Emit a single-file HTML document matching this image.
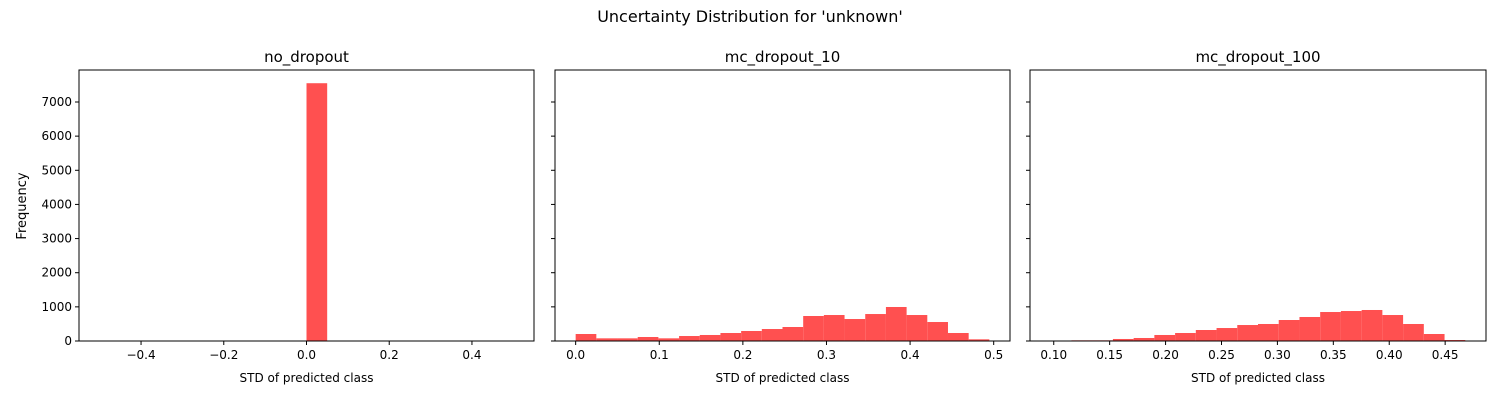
<!DOCTYPE html>
<html><head><meta charset="utf-8"><style>
body{margin:0;background:#fff;}
text{font-family:"DejaVu Sans","Liberation Sans",sans-serif;fill:#000;}
</style></head><body>
<svg id="chart" width="1500" height="400" xmlns="http://www.w3.org/2000/svg">
<text x="750" y="22" font-size="16" text-anchor="middle">Uncertainty Distribution for 'unknown'</text>
<text transform="translate(26,206) rotate(-90)" font-size="13" text-anchor="middle">Frequency</text>
</svg>
<script>
const panelTitles = ["no_dropout","mc_dropout_10","mc_dropout_100"];
const p1Edges = [0.0,0.05];
const p1Counts = [7550];
const p2Start = 0.0, p2End = 0.4948;
const p2Counts = [205,78,78,117,78,146,176,234,293,351,410,732,761,644,790,996,761,556,234,49];
const p3Start = 0.0973, p3End = 0.468;
const p3Counts = [10,20,20,59,88,176,234,322,380,468,498,615,703,849,878,908,761,498,205,29];
const p1Ticks = [-0.4,-0.2,0.0,0.2,0.4];
const p2Ticks = [0.0,0.1,0.2,0.3,0.4,0.5];
const p3Ticks = [0.10,0.15,0.20,0.25,0.30,0.35,0.40,0.45];
const yTicks = [0,1000,2000,3000,4000,5000,6000,7000];
const yMax = 7937;

const svg = document.getElementById('chart');
const NS = 'http://www.w3.org/2000/svg';
function mk(tag, attrs){const e=document.createElementNS(NS,tag);for(const k in attrs)e.setAttribute(k,attrs[k]);svg.appendChild(e);return e;}
const axTop=70, axBottom=341;
function yS(v){return axBottom-(v/yMax)*(axBottom-axTop);}

const panels=[
 {x0:79,x1:534,xmin:-0.55,xmax:0.55,ticks:p1Ticks,fmt:v=>v.toFixed(1),edges:p1Edges,counts:p1Counts},
 {x0:555,x1:1010,xmin:p2Start-0.0247,xmax:p2End+0.0247,ticks:p2Ticks,fmt:v=>v.toFixed(1),start:p2Start,end:p2End,counts:p2Counts},
 {x0:1030,x1:1486,xmin:p3Start-0.01853,xmax:p3End+0.01853,ticks:p3Ticks,fmt:v=>v.toFixed(2),start:p3Start,end:p3End,counts:p3Counts}
];
panels.forEach((p,pi)=>{
 const xS=v=>p.x0+(v-p.xmin)/(p.xmax-p.xmin)*(p.x1-p.x0);
 let edges=p.edges;
 if(!edges){edges=[];const n=p.counts.length;for(let i=0;i<=n;i++)edges.push(p.start+(p.end-p.start)*i/n);}
 p.counts.forEach((c,i)=>{
  const x=xS(edges[i]), w=xS(edges[i+1])-x;
  const r=mk('rect',{x:x,y:yS(c),width:w,height:axBottom-yS(c),fill:'#ff5050'});
  
  
 });
 const fr=mk('rect',{x:p.x0,y:axTop,width:p.x1-p.x0,height:axBottom-axTop,fill:'none',stroke:'#000','stroke-width':1});
 
 
 p.ticks.forEach(t=>{
  const x=xS(t);
  mk('line',{x1:x,x2:x,y1:axBottom,y2:axBottom+4,stroke:'#000'});
  const tx=mk('text',{x:x,y:axBottom+18,'font-size':12,'text-anchor':'middle'});
  tx.textContent=(t<0?'\u2212'+p.fmt(-t):p.fmt(t));
  
  
 });
 yTicks.forEach(t=>{
  const y=yS(t);
  mk('line',{x1:p.x0-4,x2:p.x0,y1:y,y2:y,stroke:'#000'});
  if(pi===0){
   const ty=mk('text',{x:p.x0-7,y:y+4,'font-size':12,'text-anchor':'end'});
   ty.textContent=t;
   
   
  }
 });
 const tt=mk('text',{x:(p.x0+p.x1)/2,y:62,'font-size':15,'text-anchor':'middle'});
 tt.textContent=panelTitles[pi];
 
 
 const xl=mk('text',{x:(p.x0+p.x1)/2,y:382,'font-size':12,'text-anchor':'middle'});
 xl.textContent='STD of predicted class';
 
 
});
</script>
</body></html>
